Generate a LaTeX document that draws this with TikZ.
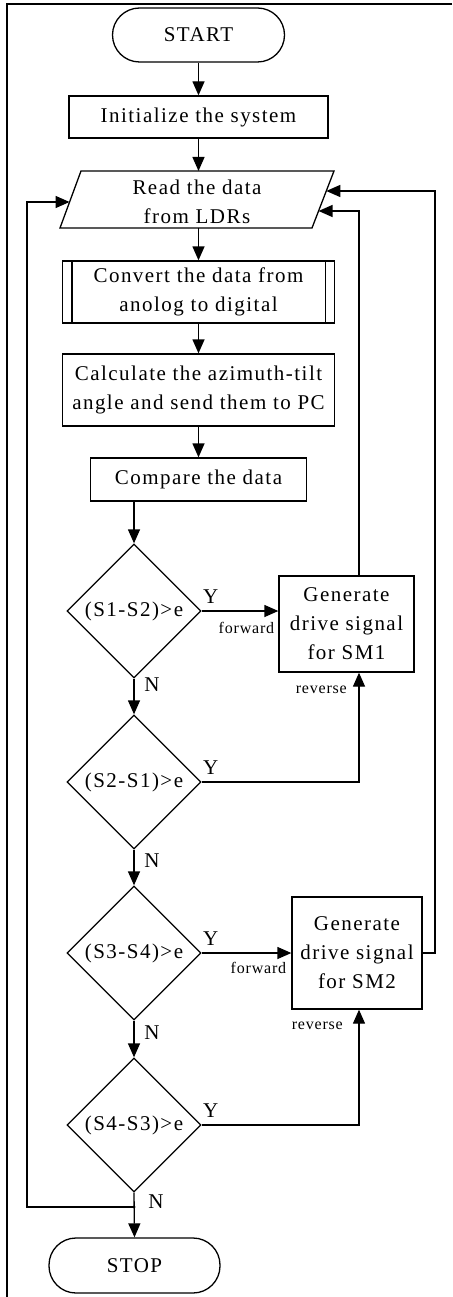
\documentclass[tikz,border=0pt]{standalone}
\usepackage{fontspec}
\setmainfont{Liberation Serif}
\newfontfamily\mainf[LetterSpace=7]{Liberation Serif}
\newfontfamily\smallf[LetterSpace=5]{Liberation Serif}
\usetikzlibrary{arrows.meta,shapes.geometric,calc}
\tikzset{
  box/.style={draw, line width=1.3pt, rectangle, inner sep=0pt, align=center,
    font=\mainf\fontsize{21}{29}\selectfont},
  term/.style={box, rounded corners=27pt},
  txt/.style={inner sep=0pt, align=center, font=\mainf\fontsize{21}{29}\selectfont},
  dec/.style={draw, diamond, line width=1.3pt, inner sep=0pt, minimum width=134pt,
    minimum height=134pt, font=\mainf\fontsize{21}{24}\selectfont},
  conn/.style={line width=1.3pt, -{Triangle[length=14pt,width=12pt]}},
  plain/.style={line width=1.3pt},
  yn/.style={inner sep=0pt, font=\mainf\fontsize{21}{24}\selectfont},
  small/.style={inner sep=0pt, font=\smallf\fontsize{16}{18}\selectfont},
}
\begin{document}
\begin{tikzpicture}[x=1pt,y=-1pt]
\useasboundingbox (0,0) rectangle (452,1297);
% frame
\draw[line width=2.4pt] (452,4) -- (7,4) -- (7,1297);

% nodes
\node[term, minimum width=172pt, minimum height=54pt] (start) at (198.5,35) {START};
\node[box, minimum width=259pt, minimum height=42pt] (init) at (198.5,117) {Initialize the system};

\coordinate (rTL) at (81,171);
\coordinate (rTR) at (334,171);
\coordinate (rBR) at (312,228);
\coordinate (rBL) at (60,228);
\draw[plain] (rTL) -- (rTR) -- (rBR) -- (rBL) -- cycle;
\node[txt] (read) at (197,202) {Read the data\\from LDRs};
\coordinate (rIn) at ($(rTL)!31/57!(rBL)$);
\coordinate (rR1) at ($(rTR)!20/57!(rBR)$);
\coordinate (rR2) at ($(rTR)!40/57!(rBR)$);

\node[box, minimum width=272pt, minimum height=62pt] (conv) at (198.5,292) {Convert the data from\\anolog to digital};
\draw[plain] ($(conv.north west)+(10,0)$) -- ($(conv.south west)+(10,0)$);
\draw[plain] ($(conv.north east)+(-10,0)$) -- ($(conv.south east)+(-10,0)$);

\node[box, minimum width=272pt, minimum height=72pt] (calc) at (198.5,390) {Calculate the azimuth-tilt\\angle and send them to PC};
\node[box, minimum width=216pt, minimum height=43pt] (comp) at (198.5,479.5) {Compare the data};

\node[dec] (d1) at (134,611) {(S1-S2)>e};
\node[dec] (d2) at (134,782) {(S2-S1)>e};
\node[dec] (d3) at (134,953) {(S3-S4)>e};
\node[dec] (d4) at (134,1125) {(S4-S3)>e};

\node[box, minimum width=135pt, minimum height=96pt] (sm1) at (346.5,624) {Generate\\drive signal\\for SM1};
\node[box, minimum width=130pt, minimum height=112pt] (sm2) at (357,953) {Generate\\drive signal\\for SM2};

\node[term, minimum width=171pt, minimum height=55pt] (stop) at (134.5,1265.5) {STOP};

\coordinate (lx) at (27,0);
\coordinate (r1x) at (359,0);
\coordinate (r2x) at (435,0);
\coordinate (j) at (134,1207);

% connectors
\draw[conn] (start.south) -- (init.north);
\draw[conn] (init.south) -- (init.south |- rTL);
\draw[conn] (init.south |- rBL) -- (conv.north);
\draw[conn] (conv.south) -- (calc.north);
\draw[conn] (calc.south) -- (comp.north);
\draw[conn] (comp.south -| d1.north) -- (d1.north);
\draw[conn] (d1.south) -- (d2.north);
\draw[conn] (d2.south) -- (d3.north);
\draw[conn] (d3.south) -- (d4.north);
\draw[conn] (d4.south) -- (stop.north);
\fill (j) circle (1.6pt);
\draw[conn] (j) -- (j -| lx) |- (rIn);

\draw[conn] (d1.east) -- (d1.east -| sm1.west);
\draw[conn] (d2.east) -| (sm1.south -| r1x);
\draw[conn] (d3.east) -- (d3.east -| sm2.west);
\draw[conn] (d4.east) -| (sm2.south -| r1x);
\draw[conn] (sm1.north -| r1x) |- (rR2);
\draw[conn] (sm2.east) -- (sm2.east -| r2x) |- (rR1);

% labels
\node[yn] (y1) at ($(d1.east)+(9,-14)$) {Y};
\node[yn] (y2) at ($(d2.east)+(9,-14)$) {Y};
\node[yn] (y3) at ($(d3.east)+(9,-14)$) {Y};
\node[yn] (y4) at ($(d4.east)+(9,-14)$) {Y};
\node[yn] (n1) at ($(d1.south)+(18,6)$) {N};
\node[yn] (n2) at ($(d2.south)+(18,11)$) {N};
\node[yn] (n3) at ($(d3.south)+(18,12)$) {N};
\node[yn] (n4) at ($(d4.south)+(22,9)$) {N};
\node[small, anchor=east] (f1) at ($(d1.east -| sm1.west)+(-4,17)$) {forward};
\node[small, anchor=east] (f2) at ($(d3.east -| sm2.west)+(-5,15)$) {forward};
\node[small, anchor=east] (rv1) at (347,690) {reverse};
\node[small, anchor=east] (rv2) at (343,1026) {reverse};
\end{tikzpicture}
\end{document}
